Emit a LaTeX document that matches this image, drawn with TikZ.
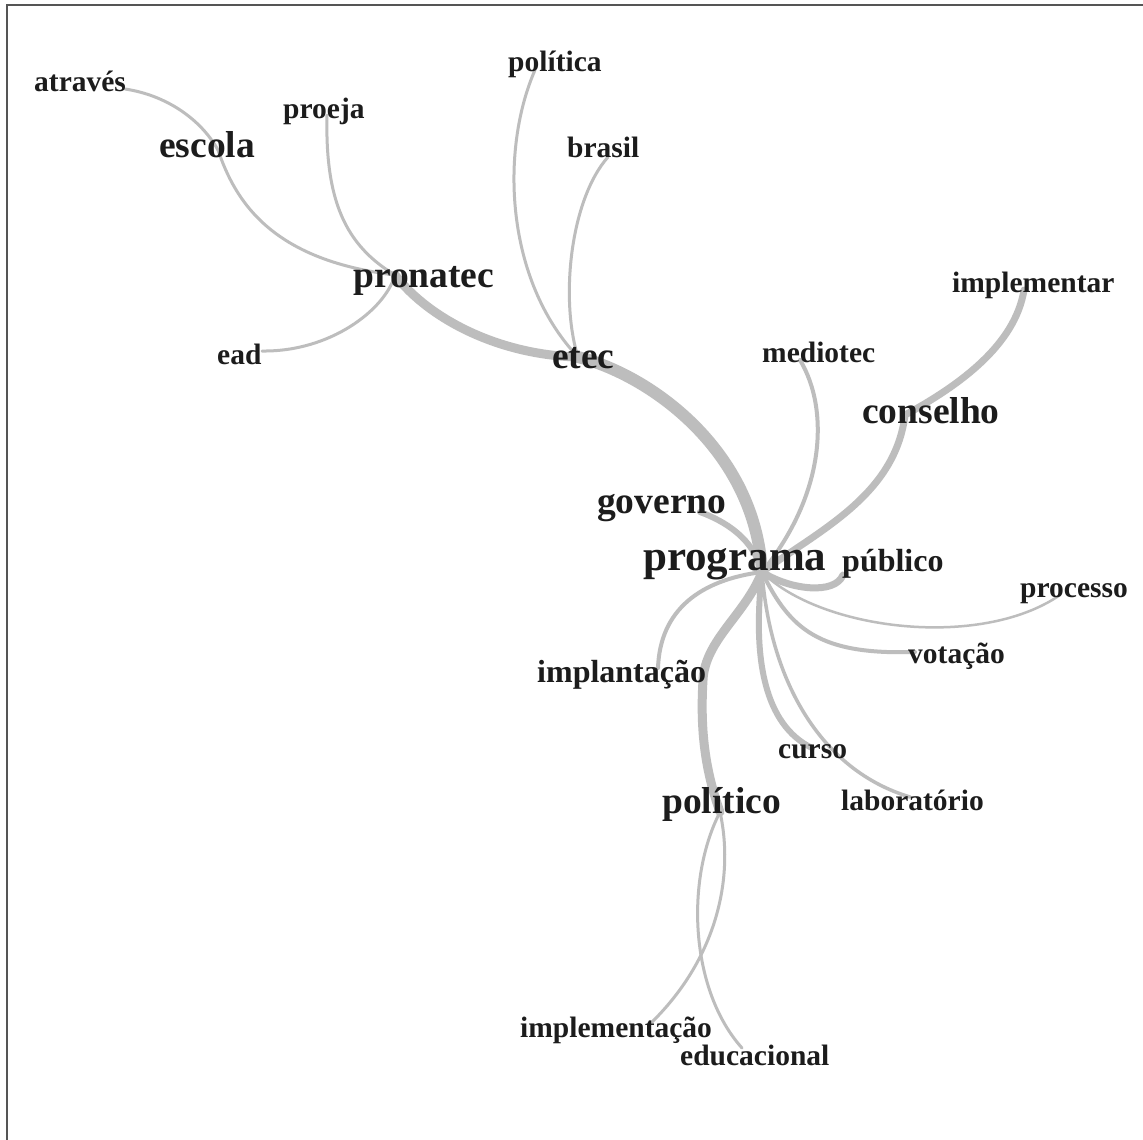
\documentclass[tikz,border=0pt]{standalone}
\usepackage{fontspec}
\setmainfont{Liberation Serif}
\definecolor{lg}{HTML}{BDBDBD}
\definecolor{txt}{HTML}{1C1C1C}
\definecolor{frame}{HTML}{555555}
\tikzset{
  ln/.style={draw=lg, line cap=round, line width=3pt},
  word/.style={inner sep=0pt, anchor=base west, text=txt},
  wS/.style={word, font=\bfseries\fontsize{29.5}{32}\selectfont},
  wM/.style={word, font=\bfseries\fontsize{32}{34}\selectfont},
  wL/.style={word, font=\bfseries\fontsize{37.5}{40}\selectfont},
  wX/.style={word, font=\bfseries\fontsize{43}{46}\selectfont},
}
\begin{document}
\begin{tikzpicture}[x=1pt, y=-1pt]
\useasboundingbox (0,0) rectangle (1143,1140);
\fill[white] (0,0) rectangle (1143,1140);
% frame
\coordinate (fbl) at (6.5,1141);
\coordinate (ftl) at (6.5,5.5);
\coordinate (ftr) at (1144,5.5);
\draw[frame, line width=2pt] (fbl) -- (ftl) -- (ftr);

% vertices
\coordinate (v-atraves) at (125,89);
\coordinate (v-escola) at (218,150);
\coordinate (v-proeja) at (327,115);
\coordinate (v-pronatec) at (395,275);
\coordinate (v-ead) at (262,351);
\coordinate (v-politica) at (535,70);
\coordinate (v-brasil) at (608,157);
\coordinate (v-etec) at (578,357);
\coordinate (v-programa) at (762,572);
\coordinate (v-governo) at (700,512);
\coordinate (v-mediotec) at (800,360);
\coordinate (v-conselho) at (905,415);
\coordinate (v-implementar) at (1024,290);
\coordinate (v-publico) at (843,575);
\coordinate (v-processo) at (1060,595);
\coordinate (v-votacao) at (915,652);
\coordinate (v-implantacao) at (658,668);
\coordinate (v-politico) at (720,812);
\coordinate (v-implementacao) at (652,1022);
\coordinate (v-educacional) at (742,1048);
\coordinate (v-curso) at (812,748);
\coordinate (v-laboratorio) at (910,797);

% connectors
\draw[ln] (v-atraves) .. controls (165,95) and (200,118) .. (v-escola);
\draw[ln] (v-escola) .. controls (235,200) and (270,260) .. (v-pronatec);
\draw[ln] (v-proeja) .. controls (325,200) and (345,245) .. (v-pronatec);
\draw[ln] (v-ead) .. controls (330,352) and (385,310) .. (v-pronatec);
\draw[ln, line width=9pt] (v-pronatec) .. controls (430,320) and (500,355) .. (v-etec);
\draw[ln] (v-politica) .. controls (500,150) and (505,280) .. (v-etec);
\draw[ln] (v-brasil) .. controls (570,200) and (560,300) .. (v-etec);
\draw[ln, line width=12pt] (v-etec) .. controls (650,375) and (755,450) .. (v-programa);
\draw[ln, line width=6pt] (v-governo) .. controls (735,525) and (755,545) .. (v-programa);
\draw[ln, line width=4pt] (v-mediotec) .. controls (830,410) and (825,495) .. (v-programa);
\draw[ln, line width=7pt] (v-conselho) .. controls (895,495) and (820,530) .. (v-programa);
\draw[ln, line width=7pt] (v-implementar) .. controls (1015,345) and (960,385) .. (v-conselho);
\draw[ln, line width=7pt] (v-programa) .. controls (790,590) and (835,595) .. (v-publico);
\draw[ln, line width=2.5pt] (v-programa) .. controls (820,630) and (980,650) .. (v-processo);
\draw[ln, line width=4pt] (v-programa) .. controls (790,630) and (820,655) .. (v-votacao);
\draw[ln, line width=4pt] (v-implantacao) .. controls (660,610) and (700,580) .. (v-programa);
\draw[ln, line width=9pt] (v-programa) .. controls (745,615) and (705,640) .. (703,680) .. controls (700,730) and (705,770) .. (v-politico);
\draw[ln] (v-politico) .. controls (735,880) and (715,960) .. (v-implementacao);
\draw[ln] (v-politico) .. controls (685,880) and (690,990) .. (v-educacional);
\draw[ln, line width=6pt] (v-programa) .. controls (752,660) and (765,725) .. (v-curso);
\draw[ln, line width=3.5pt] (v-programa) .. controls (770,680) and (820,770) .. (v-laboratorio);

% words
\node[wS] (atraves) at (34,92) {através};
\node[wL] (escola) at (159,157) {escola};
\node[wS] (proeja) at (283,118) {proeja};
\node[wL] (pronatec) at (353,287) {pronatec};
\node[wS] (ead) at (217,364) {ead};
\node[wS] (politica) at (508,72) {política};
\node[wS] (brasil) at (567,157) {brasil};
\node[wL] (etec) at (552,368) {etec};
\node[wS] (mediotec) at (762,362) {mediotec};
\node[wL] (conselho) at (862,423) {conselho};
\node[wS] (implementar) at (952,292) {implementar};
\node[wL] (governo) at (597,513) {governo};
\node[wX] (programa) at (643,570) {programa};
\node[wM] (publico) at (842,571) {público};
\node[wS] (processo) at (1020,597) {processo};
\node[wS] (votacao) at (908,663) {votação};
\node[wM] (implantacao) at (537,682) {implantação};
\node[wS] (curso) at (778,758) {curso};
\node[wS] (laboratorio) at (841,810) {laboratório};
\node[wL] (politico) at (662,813) {político};
\node[wS] (implementacao) at (520,1037) {implementação};
\node[wS] (educacional) at (680,1065) {educacional};
\end{tikzpicture}
\end{document}
